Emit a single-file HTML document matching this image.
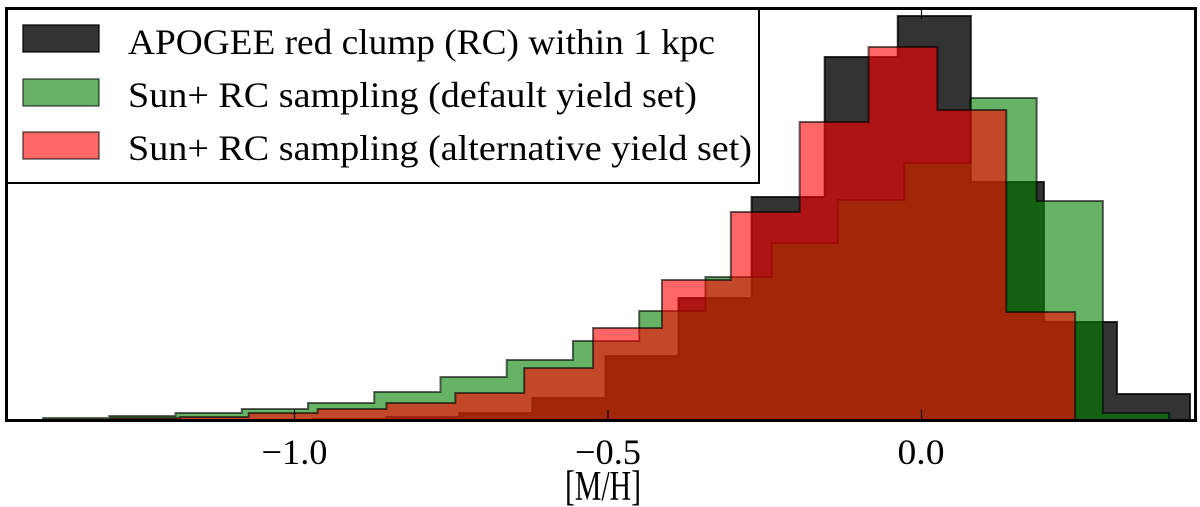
<!DOCTYPE html>
<html><head><meta charset="utf-8"><style>
html,body{margin:0;padding:0;background:#fff;}
svg{display:block;font-family:"Liberation Serif",serif;}
</style></head><body>
<svg id="chart" width="1200" height="507" viewBox="0 0 1200 507" xmlns="http://www.w3.org/2000/svg">
<g id="bars"></g>
<rect x="6.5" y="8.5" width="1189" height="412" fill="none" stroke="#000" stroke-width="3"/>
<g id="ticks"></g>
<text x="565" y="500" font-size="42" textLength="76" lengthAdjust="spacingAndGlyphs">[M/H]</text>
<g>
<rect x="7" y="9" width="752" height="174" fill="#fff" stroke="#000" stroke-width="2"/>
<rect x="23" y="25" width="76" height="27" fill="rgba(0,0,0,0.8)" stroke="rgba(0,0,0,0.8)" stroke-width="1.5"/>
<text x="128" y="54" font-size="36" textLength="587" lengthAdjust="spacingAndGlyphs">APOGEE red clump (RC) within 1 kpc</text>
<rect x="23" y="79" width="76" height="27" fill="rgba(0,128,0,0.6)" stroke="rgba(0,0,0,0.6)" stroke-width="1.5"/>
<text x="128" y="107" font-size="36" textLength="569" lengthAdjust="spacingAndGlyphs">Sun+ RC sampling (default yield set)</text>
<rect x="23" y="132" width="76" height="27" fill="rgba(255,0,0,0.6)" stroke="rgba(0,0,0,0.6)" stroke-width="1.5"/>
<text x="128" y="160" font-size="36" textLength="624" lengthAdjust="spacingAndGlyphs">Sun+ RC sampling (alternative yield set)</text>
</g>
</svg>
<script>
const blackStart = -1.3198, blackWidth = 0.11654;
const blackCounts = [1,1,1,2,4,8,23,65,123,224,364,405,239,99,27];
const greenStart = -1.4011, greenWidth = 0.10565;
const greenCounts = [3,5,8,12,18,29,44,61,80,110,144,178,221,258,323,220,8];
const redStart = -1.2927, redWidth = 0.10984;
const redCounts = [3,4,8,12,18,28,53,93,141,209,299,374,311,109];
const tickValues = [-1.0, -0.5, 0.0];
const tickLabels = ["\u22121.0", "\u22120.5", "0.0"];

const NS = "http://www.w3.org/2000/svg";
function xs(v){ return 921.5 + v * 627; }
function ys(c){ return 421 - c; }

function drawHist(start, width, counts, fill, stroke, name){
  const g = document.getElementById('bars');
  let d = "M" + xs(start) + "," + ys(0);
  counts.forEach((c, i) => {
    const x0 = xs(start + i * width), x1 = xs(start + (i + 1) * width);
    d += " L" + x0 + "," + ys(c) + " L" + x1 + "," + ys(c);
  });
  d += " L" + xs(start + counts.length * width) + "," + ys(0) + " Z";
  const p = document.createElementNS(NS, 'path');
  p.setAttribute('d', d);
  p.setAttribute('fill', fill);
  p.setAttribute('stroke', stroke);
  p.setAttribute('stroke-width', '2');
  
  
  g.appendChild(p);
}
drawHist(blackStart, blackWidth, blackCounts, 'rgba(0,0,0,0.8)', 'rgba(0,0,0,0.8)', 'histogram-apogee');
drawHist(greenStart, greenWidth, greenCounts, 'rgba(0,128,0,0.6)', 'rgba(0,0,0,0.6)', 'histogram-default-yield');
drawHist(redStart, redWidth, redCounts, 'rgba(255,0,0,0.6)', 'rgba(0,0,0,0.6)', 'histogram-alternative-yield');

const tg = document.getElementById('ticks');
tickValues.forEach((v, i) => {
  const x = xs(v);
  const t1 = document.createElementNS(NS, 'line');
  t1.setAttribute('x1', x); t1.setAttribute('x2', x);
  t1.setAttribute('y1', 420); t1.setAttribute('y2', 410);
  t1.setAttribute('stroke', '#000'); t1.setAttribute('stroke-width', '1.2');
  
  
  tg.appendChild(t1);
  const t2 = document.createElementNS(NS, 'line');
  t2.setAttribute('x1', x); t2.setAttribute('x2', x);
  t2.setAttribute('y1', 9); t2.setAttribute('y2', 19);
  t2.setAttribute('stroke', '#000'); t2.setAttribute('stroke-width', '1.2');
  
  
  tg.appendChild(t2);
  const tx = document.createElementNS(NS, 'text');
  const neg = tickLabels[i].length > 3;
  tx.setAttribute('x', x - (neg ? 33 : 24));
  tx.setAttribute('y', 464);
  tx.setAttribute('font-size', '36');
  tx.setAttribute('textLength', neg ? 66 : 47);
  tx.setAttribute('lengthAdjust', 'spacingAndGlyphs');
  tx.textContent = tickLabels[i];
  
  
  tg.appendChild(tx);
});
</script>
</body></html>
